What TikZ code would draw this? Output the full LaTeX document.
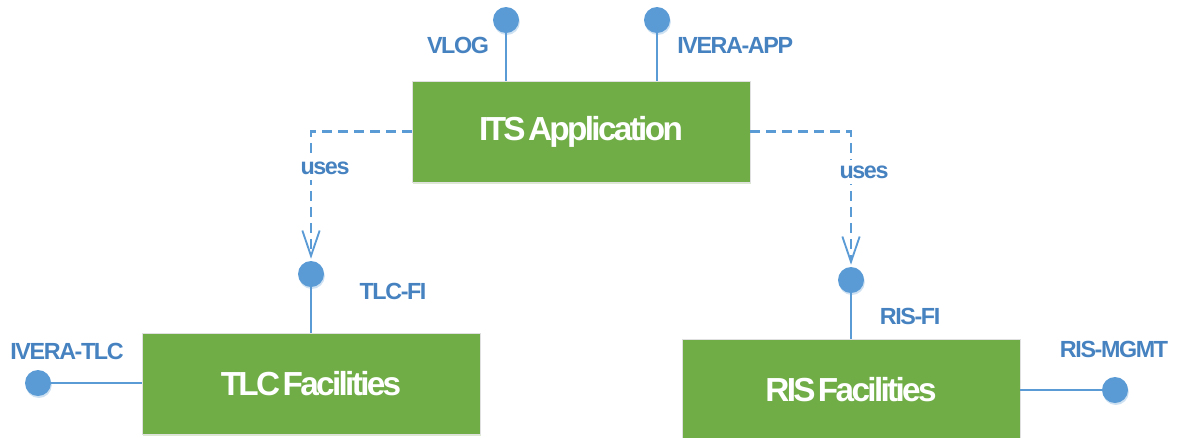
\documentclass[tikz,border=0pt]{standalone}
\usepackage{fontspec}
\setmainfont{Liberation Sans}
\newfontfamily\diagfont[LetterSpace=-6]{Liberation Sans}
\newfontfamily\boxfont[LetterSpace=-8,WordSpace=0.35]{Liberation Sans}
\usetikzlibrary{arrows.meta,shadows}

\definecolor{boxgreen}{RGB}{112,173,71}
\definecolor{portblue}{RGB}{91,155,213}
\definecolor{labelblue}{RGB}{70,130,192}

\tikzset{
  component/.style={draw=black!12, fill=boxgreen, text=white, inner sep=0pt,
    minimum width=253.5pt, minimum height=75.75pt,
    drop shadow={shadow xshift=0.8pt, shadow yshift=-1.5pt, fill=boxgreen!25, opacity=1},
    font=\boxfont\fontsize{25}{29}\selectfont\bfseries},
  port/.style={circle, fill=portblue, inner sep=0pt, minimum size=19.5pt,
    drop shadow={shadow xshift=0.6pt, shadow yshift=-1.5pt, fill=portblue!30, opacity=1}},
  portlabel/.style={text=labelblue, inner sep=0pt,
    font=\diagfont\fontsize{17.5}{21}\selectfont\bfseries},
  link/.style={draw=portblue, line width=1.5pt},
  uses/.style={draw=portblue, line width=1.6pt, dash pattern=on 7.5pt off 4.5pt,
    -{Straight Barb[length=19pt,width=13pt,line width=1.4pt]}, shorten >=1.5pt},
}

\begin{document}
\begin{tikzpicture}[x=0.75pt,y=0.75pt,yscale=-1,xscale=1]
\useasboundingbox (0,0) rectangle (1180,437);

% Components
\node [component] (its) at (581,131.5) {ITS Application};
\node [component] (tlc) at (311,383.5) {TLC Facilities};
\node [component] (ris) at (851,389.5) {RIS Facilities};

% Ports
\node [port] (vlog) at (506,20) {};
\node [port] (iveraapp) at (657,20) {};
\node [port] (tlcfi) at (311,274) {};
\node [port] (risfi) at (851,280) {};
\node [port] (iveratlc) at (38,383) {};
\node [port] (rismgmt) at (1115,390) {};

% Port lines
\draw [link] (vlog) -- (vlog |- its.north) ;
\draw [link] (iveraapp) -- (iveraapp |- its.north) ;
\draw [link] (tlcfi) -- (tlc.north) ;
\draw [link] (risfi) -- (ris.north) ;
\draw [link] (iveratlc) -- (tlc.west |- iveratlc) ;
\draw [link] (rismgmt) -- (ris.east |- rismgmt) ;

% Uses dependencies
\draw [uses] (its.west) -| (tlcfi.north) ;
\draw [uses] (its.east) -| (risfi.north) ;

% Text Node
\node [portlabel] (vloglbl) at (458,45) {VLOG};
\node [portlabel, anchor=west] (iveraapplbl) at (677,45) {IVERA-APP};
\node [portlabel] (tlcfilbl) at (393,291) {TLC-FI};
\node [portlabel] (risfilbl) at (910,316) {RIS-FI};
\node [portlabel] (iveratlclbl) at (67,351) {IVERA-TLC};
\node [portlabel] (rismgmtlbl) at (1114,349) {RIS-MGMT};
\node [portlabel, fill=white, inner ysep=4pt] (usesleft) at (325,168) {uses};
\node [portlabel, fill=white, inner ysep=4pt] (usesright) at (864,172) {uses};

\end{tikzpicture}
\end{document}
